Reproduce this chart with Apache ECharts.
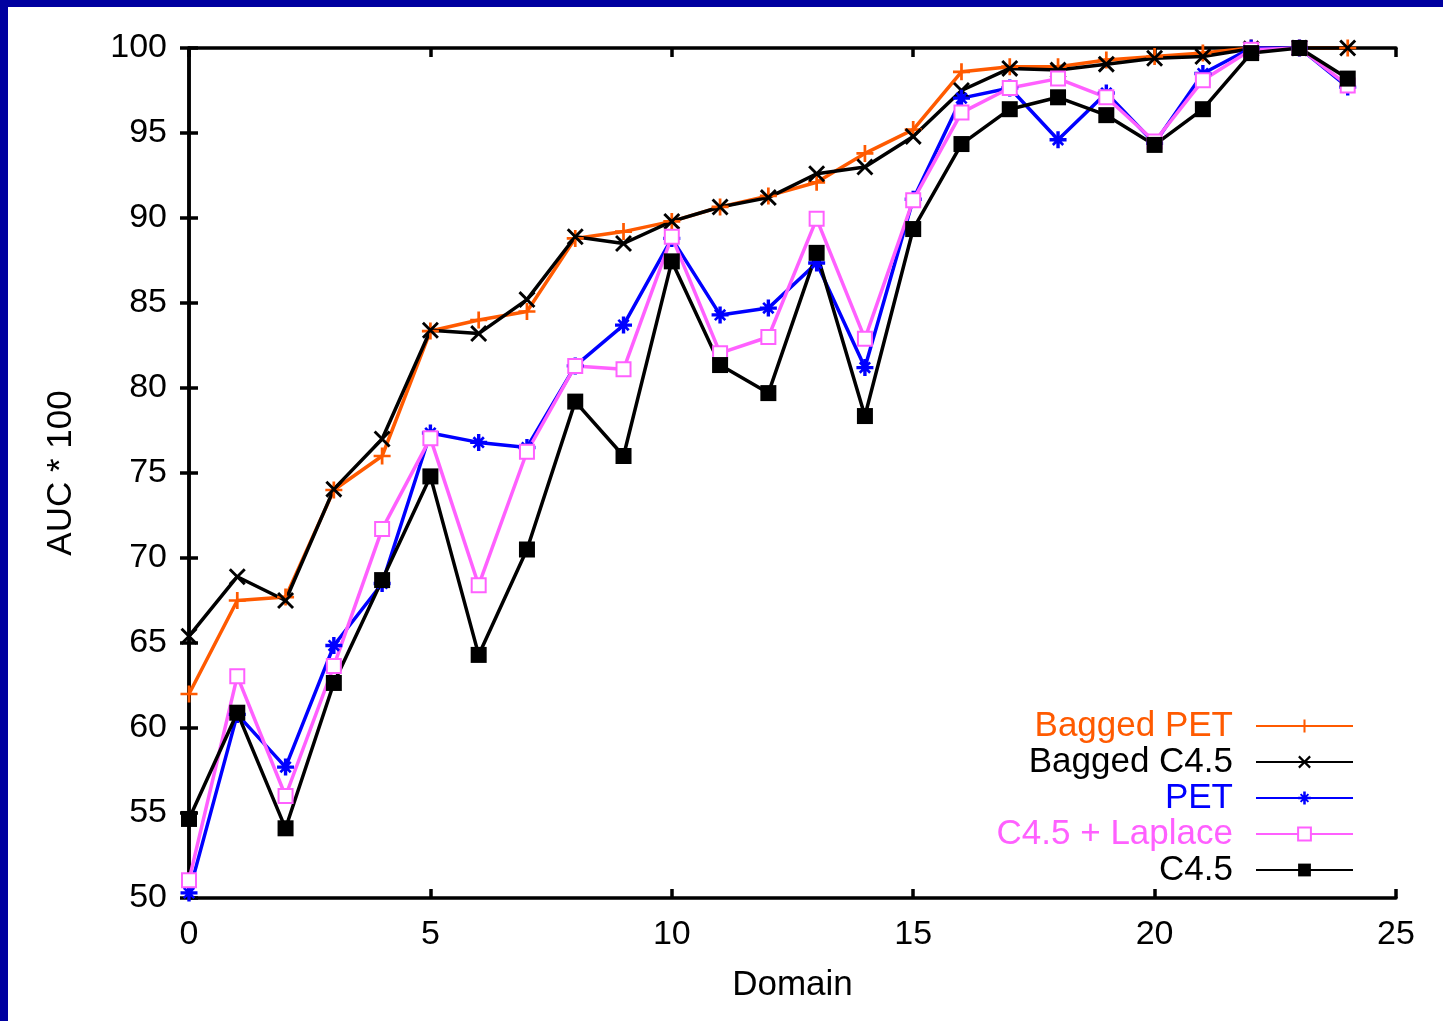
<!DOCTYPE html>
<html>
<head>
<meta charset="utf-8">
<script src="https://cdn.jsdelivr.net/npm/echarts@6/dist/echarts.min.js"></script>
<style>
html,body{margin:0;padding:0;background:#fff;}
#wrap{position:relative;width:1443px;height:1021px;overflow:hidden;}
#chart{position:absolute;left:0;top:0;width:1443px;height:1021px;}
.bl{position:absolute;left:0;top:0;width:8px;height:1021px;background:#0000a0;}
.bt{position:absolute;left:0;top:0;width:1443px;height:7px;background:#0000a0;}
</style>
</head>
<body>
<div id="wrap">
<div id="chart"></div>
<div class="bl"></div>
<div class="bt"></div>
</div>
<script>
const domains = [0,1,2,3,4,5,6,7,8,9,10,11,12,13,14,15,16,17,18,19,20,21,22,23,24];
const baggedPET = [62.0,67.5,67.7,74.0,76.0,83.35,84.0,84.5,88.8,89.2,89.8,90.65,91.3,92.1,93.8,95.2,98.6,98.9,98.9,99.3,99.5,99.7,100,100,100];
const baggedC45 = [65.4,68.9,67.5,74.05,77.0,83.4,83.2,85.2,88.9,88.5,89.8,90.65,91.2,92.6,93.0,94.8,97.5,98.8,98.7,99.05,99.4,99.5,99.95,100,100];
const pet = [50.3,60.8,57.7,64.85,68.5,77.35,76.8,76.5,81.3,83.7,88.8,84.3,84.7,87.35,81.2,91.1,97.05,97.65,94.6,97.35,94.4,98.5,100,100,97.7];
const laplace = [51.05,63.05,56.0,63.65,71.7,77.05,68.4,76.25,81.3,81.1,88.9,82.05,83.0,89.95,82.9,91.05,96.2,97.65,98.2,97.1,94.5,98.1,99.9,100,97.8];
const c45 = [54.65,60.9,54.1,62.65,68.7,74.8,64.3,70.5,79.2,76.0,87.45,81.35,79.7,87.95,78.35,89.35,94.35,96.4,97.1,96.05,94.3,96.4,99.7,100,98.2];
const seriesNames = ['Bagged PET','Bagged C4.5','PET','C4.5 + Laplace','C4.5'];
const xTicks = [0,5,10,15,20,25];
const yTicks = [50,55,60,65,70,75,80,85,90,95,100];

const PLUS = 'path://M-1,-0.16 L-0.16,-0.16 L-0.16,-1 L0.16,-1 L0.16,-0.16 L1,-0.16 L1,0.16 L0.16,0.16 L0.16,1 L-0.16,1 L-0.16,0.16 L-1,0.16 Z';
const CROSS = 'path://M-1,-0.76 L-0.76,-1 L1,0.76 L0.76,1 Z M1,-0.76 L-0.76,1 L-1,0.76 L0.76,-1 Z';
const STAR = 'path://M-1,-0.2 L-0.2,-0.2 L-0.2,-1 L0.2,-1 L0.2,-0.2 L1,-0.2 L1,0.2 L0.2,0.2 L0.2,1 L-0.2,1 L-0.2,0.2 L-1,0.2 Z M-0.72,-0.5 L-0.5,-0.72 L0.72,0.5 L0.5,0.72 Z M0.72,-0.5 L-0.5,0.72 L-0.72,0.5 L0.5,-0.72 Z';

const FONT = '"Liberation Sans", Arial, Helvetica, sans-serif';
const colors = ['#ff5a00','#000000','#0000ff','#ff60ff','#000000'];

function pairs(vals){ return domains.map((d,i)=>[d, vals[i]]); }

function mk(name, vals, color, symbol, size, extra){
  return Object.assign({
    name: name,
    type: 'line',
    data: pairs(vals),
    symbol: symbol,
    symbolSize: size,
    showAllSymbol: true,
    clip: false,
    lineStyle: {color: color, width: 3.5},
    itemStyle: {color: color},
    emphasis: {disabled: true},
    animation: false
  }, extra || {});
}

const chart = echarts.init(document.getElementById('chart'), null, {renderer:'canvas'});
const axisCommon = {
  type: 'value',
  axisLine: {show: true, lineStyle: {color: '#000', width: 3.5}},
  axisTick: {show: true, inside: true, length: 9, lineStyle: {color: '#000', width: 3.5}},
  splitLine: {show: false}
};
chart.setOption({
  backgroundColor: '#ffffff',
  animation: false,
  grid: {left: 189, top: 48, width: 1207, height: 850, containLabel: false},
  xAxis: [
    Object.assign({}, axisCommon, {
      min: 0, max: 25, interval: 5, position: 'bottom',
      name: 'Domain', nameLocation: 'middle', nameGap: 70,
      nameTextStyle: {fontFamily: FONT, fontSize: 35, color: '#000'},
      axisLabel: {fontFamily: FONT, fontSize: 34, color: '#000', margin: 20,
        formatter: v => xTicks.indexOf(v) >= 0 ? String(v) : ''}
    }),
    Object.assign({}, axisCommon, {
      min: 0, max: 25, interval: 5, position: 'top', axisLabel: {show: false}
    })
  ],
  yAxis: [
    Object.assign({}, axisCommon, {
      min: 50, max: 100, interval: 5, position: 'left',
      name: 'AUC * 100', nameLocation: 'middle', nameGap: 110, nameRotate: 90,
      nameTextStyle: {fontFamily: FONT, fontSize: 35, color: '#000'},
      axisLabel: {fontFamily: FONT, fontSize: 34, color: '#000', margin: 22,
        formatter: v => yTicks.indexOf(v) >= 0 ? String(v) : ''}
    }),
    Object.assign({}, axisCommon, {
      min: 50, max: 100, interval: 5, position: 'right', axisLabel: {show: false}
    })
  ],
  legend: {
    orient: 'vertical',
    align: 'right',
    right: 84,
    top: 703,
    itemWidth: 97,
    itemHeight: 16,
    itemGap: 0,
    data: seriesNames.map((n,i) => ({name: n, textStyle: {color: colors[i]}})),
    selectedMode: false,
    textStyle: {fontFamily: FONT, fontSize: 35, lineHeight: 36, padding: [0, 18, 0, 0]}
  },
  series: [
    mk(seriesNames[0], baggedPET, colors[0], PLUS, 17),
    mk(seriesNames[1], baggedC45, colors[1], CROSS, 17),
    mk(seriesNames[2], pet, colors[2], STAR, 17),
    mk(seriesNames[3], laplace, colors[3], 'emptyRect', 14, {itemStyle: {color: colors[3], borderColor: colors[3], borderWidth: 3}}),
    mk(seriesNames[4], c45, colors[4], 'rect', 16)
  ]
});
</script>
</body>
</html>
